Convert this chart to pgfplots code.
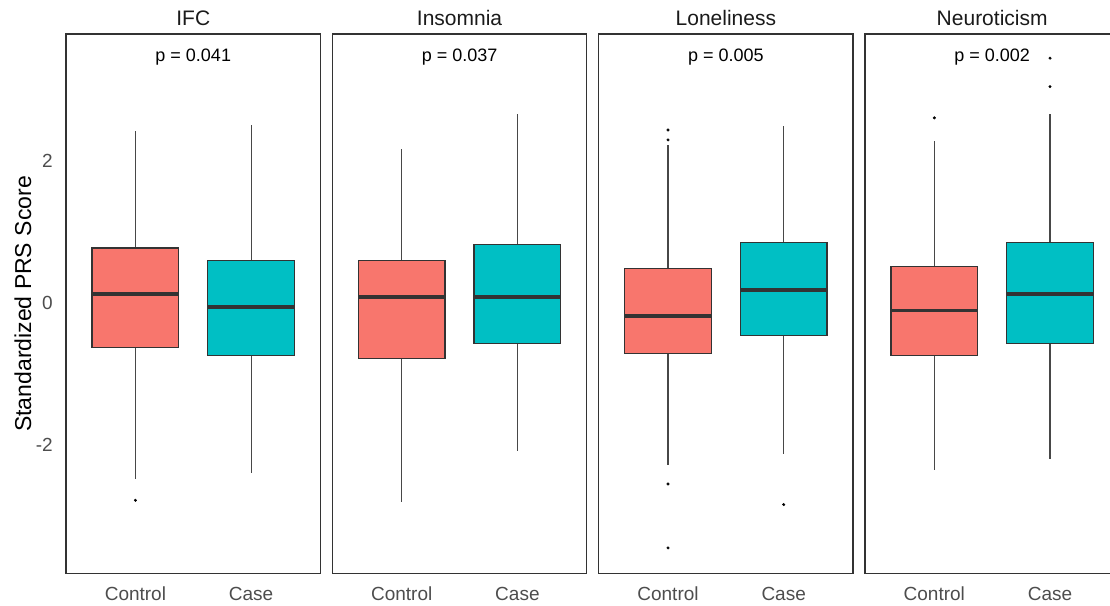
\documentclass[border=0pt]{standalone}
\usepackage{pgfplots}
\pgfplotsset{compat=1.18}
\usepgfplotslibrary{statistics}
\usepackage{fontspec}
\setmainfont{Liberation Sans}
\definecolor{ctrl}{HTML}{F8766D}
\definecolor{casec}{HTML}{00BFC4}
\definecolor{bord}{HTML}{333333}
\definecolor{tickc}{HTML}{4D4D4D}
\definecolor{stripc}{HTML}{1A1A1A}

\pgfplotsset{
  panel/.style={
    scale only axis, width=254.5pt, height=539.5pt,
    xmin=0.4, xmax=2.6, ymin=-3.81, ymax=3.78,
    axis line style={draw=bord, line width=1.3pt},
    xtick={1,2}, xticklabels={Control,Case},
    ytick={-2,0,2}, yticklabels={},
    major tick length=0pt,
    xticklabel style={font=\fontsize{19}{22}\selectfont, text=tickc, anchor=base, yshift=-27pt},
    title style={at={(0.5,1)}, anchor=base, yshift=2pt, font=\fontsize{21}{25}\selectfont, text=stripc},
    boxplot/draw direction=y,
    boxplot/box extend=0.75,
    boxplot/whisker extend=0,
  },
  bx/.style={
    solid, mark=*, mark size=1.3pt, mark options={fill=black, draw=black},
    boxplot/every box/.style={draw=bord, fill=#1, line width=1.2pt},
    boxplot/every whisker/.style={draw=bord!90!white, line width=1.1pt},
    boxplot/every median/.style={draw=bord, line width=3.6pt},
  },
}
\tikzset{
  ptext/.style={anchor=base, font=\fontsize{18}{21}\selectfont, text=black},
}

\begin{document}
\begin{tikzpicture}[x=1pt,y=1pt]
% ---------------- IFC ----------------
\begin{axis}[panel, at={(66pt,31.5pt)}, anchor=south west, title={IFC},
  yticklabels={-2,0,2},
  yticklabel style={font=\fontsize{19}{22}\selectfont, text=tickc, anchor=east, inner sep=0pt, xshift=-13pt}]
\addplot[bx=ctrl, boxplot prepared={draw position=1,
  lower whisker=-2.48, lower quartile=-0.63, median=0.12, upper quartile=0.77, upper whisker=2.42}]
  coordinates {(1,-2.78)};
\addplot[bx=casec, boxplot prepared={draw position=2,
  lower whisker=-2.40, lower quartile=-0.74, median=-0.06, upper quartile=0.59, upper whisker=2.50}]
  coordinates {};
\node[ptext] at (axis cs:1.5,3.39) {p = 0.041};
\end{axis}
% ---------------- Insomnia ----------------
\begin{axis}[panel, at={(332.3pt,31.5pt)}, anchor=south west, title={Insomnia}]
\addplot[bx=ctrl, boxplot prepared={draw position=1,
  lower whisker=-2.81, lower quartile=-0.79, median=0.08, upper quartile=0.59, upper whisker=2.16}]
  coordinates {};
\addplot[bx=casec, boxplot prepared={draw position=2,
  lower whisker=-2.09, lower quartile=-0.57, median=0.08, upper quartile=0.82, upper whisker=2.66}]
  coordinates {};
\node[ptext] at (axis cs:1.5,3.39) {p = 0.037};
\end{axis}
% ---------------- Loneliness ----------------
\begin{axis}[panel, at={(598.6pt,31.5pt)}, anchor=south west, title={Loneliness}]
\addplot[bx=ctrl, boxplot prepared={draw position=1,
  lower whisker=-2.29, lower quartile=-0.71, median=-0.19, upper quartile=0.48, upper whisker=2.22}]
  coordinates {(1,2.43) (1,2.29) (1,-2.55) (1,-3.45)};
\addplot[bx=casec, boxplot prepared={draw position=2,
  lower whisker=-2.13, lower quartile=-0.46, median=0.18, upper quartile=0.85, upper whisker=2.48}]
  coordinates {(2,-2.84)};
\node[ptext] at (axis cs:1.5,3.39) {p = 0.005};
\end{axis}
% ---------------- Neuroticism ----------------
\begin{axis}[panel, at={(864.9pt,31.5pt)}, anchor=south west, title={Neuroticism}]
\addplot[bx=ctrl, boxplot prepared={draw position=1,
  lower whisker=-2.35, lower quartile=-0.74, median=-0.11, upper quartile=0.51, upper whisker=2.27}]
  coordinates {(1,2.60)};
\addplot[bx=casec, boxplot prepared={draw position=2,
  lower whisker=-2.20, lower quartile=-0.57, median=0.12, upper quartile=0.85, upper whisker=2.66}]
  coordinates {(2,3.44) (2,3.04)};
\node[ptext] at (axis cs:1.5,3.39) {p = 0.002};
\end{axis}
\node[rotate=90, anchor=base, font=\fontsize{23}{27}\selectfont, text=black, inner sep=0pt] at (31pt,301pt) {Standardized PRS Score};
\pgfresetboundingbox
\useasboundingbox (0pt,0pt) rectangle (1110pt,605pt);
\end{tikzpicture}
\end{document}
